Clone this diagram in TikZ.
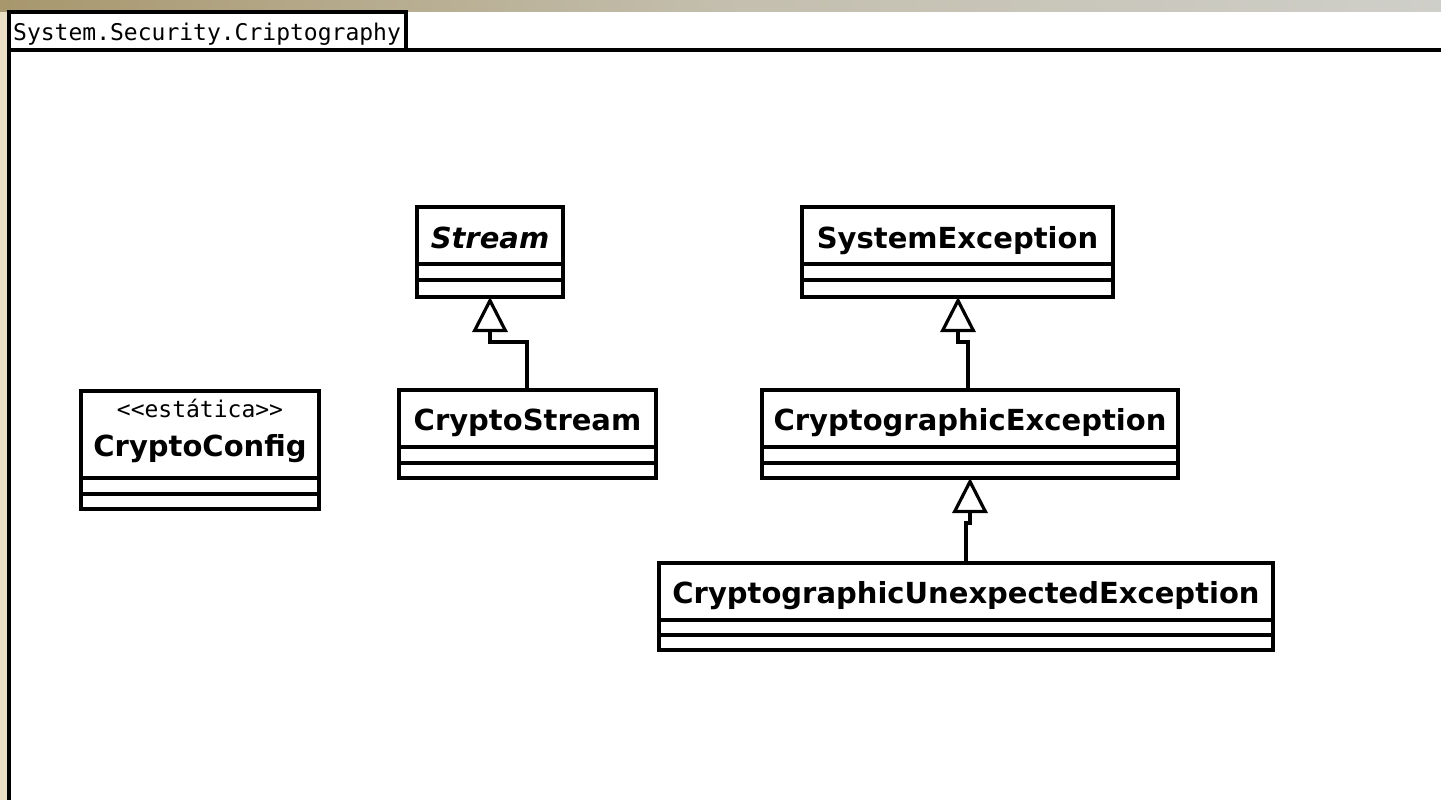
\documentclass[tikz,border=0pt]{standalone}
\usepackage{fontspec}
\setmainfont{DejaVu Sans}
\newfontfamily\monofont{DejaVu Sans Mono}
\usetikzlibrary{arrows.meta}
\definecolor{frameTan}{HTML}{A8976D}
\definecolor{frameGrey}{HTML}{CFCFC9}
\definecolor{frameCream}{HTML}{EADFC4}
\tikzset{
  x=1pt, y=-1pt,
  umlline/.style={line width=3.2pt, draw=black},
  classtext/.style={font=\fontsize{29}{32}\selectfont\bfseries, inner sep=0pt, anchor=base},
  monotext/.style={font=\monofont\fontsize{23}{25}\selectfont, inner sep=0pt, anchor=base},
  inherit/.style={line width=3.2pt, -{Triangle[open, length=35pt, width=35pt, line width=3.2pt]}, fill=white},
}
% a class box: name, left, top, right, bottom, bottom of name part, bottom of attribute part
\newcommand{\umlclass}[7]{%
  \coordinate (#1-nw) at (#2,#3);
  \coordinate (#1-se) at (#4,#5);
  \fill[white] (#2,#3) rectangle (#4,#5);
  \draw[umlline] (#2,#3) rectangle (#4,#5);
  \draw[umlline] (#2,#6) -- (#4,#6);
  \draw[umlline] (#2,#7) -- (#4,#7);
}
\begin{document}
\begin{tikzpicture}
\useasboundingbox (0,0) rectangle (1441,800);
% surrounding backdrop
\shade[left color=frameTan, right color=frameGrey, middle color=frameGrey!70!frameTan] (0,0) rectangle (1441,12);
\fill[frameCream] (0,12) rectangle (9,800);
\fill[white] (9,12) rectangle (1441,800);

% package frame with its tab
\draw[umlline] (9,812) -- (9,50) -- (1450,50);
\draw[umlline] (9,50) rectangle (406,12);
\node[monotext, anchor=base west] (pkg) at (13,41) {System.Security.Criptography};

% classes
\umlclass{stream}{417}{207}{563}{297}{264}{280}
\node[classtext, font=\fontsize{29}{32}\selectfont\bfseries\itshape] (streamName) at (490,248) {Stream};

\umlclass{cstream}{399}{390}{656}{478}{447}{463}
\node[classtext] (cstreamName) at (527.5,430) {CryptoStream};

\umlclass{cconfig}{81}{391}{319}{509}{478}{494}
\node[monotext] (cconfigStereo) at (200,417) {<<estática>>};
\node[classtext] (cconfigName) at (200,456) {CryptoConfig};

\umlclass{sysex}{802}{207}{1113}{297}{264}{280}
\node[classtext] (sysexName) at (957.5,248) {SystemException};

\umlclass{cex}{762}{390}{1178}{478}{447}{463}
\node[classtext] (cexName) at (970,430) {CryptographicException};

\umlclass{cuex}{659}{563}{1273}{650}{620}{635}
\node[classtext] (cuexName) at (966,603) {CryptographicUnexpectedException};

% generalisations
\coordinate (streamTip) at (490,297);
\coordinate (sysexTip) at (958,297);
\coordinate (cexTip) at (970,478);
\coordinate (cstreamTop) at (527,390);
\coordinate (cexTop) at (968,390);
\coordinate (cuexTop) at (966,563);
\draw[inherit] (cstreamTop) -- (527,342) -- (490,342) -- (streamTip);
\draw[inherit] (cexTop) -- (968,342) -- (958,342) -- (sysexTip);
\draw[inherit] (cuexTop) -- (966,523) -- (970,523) -- (cexTip);
\end{tikzpicture}
\end{document}
